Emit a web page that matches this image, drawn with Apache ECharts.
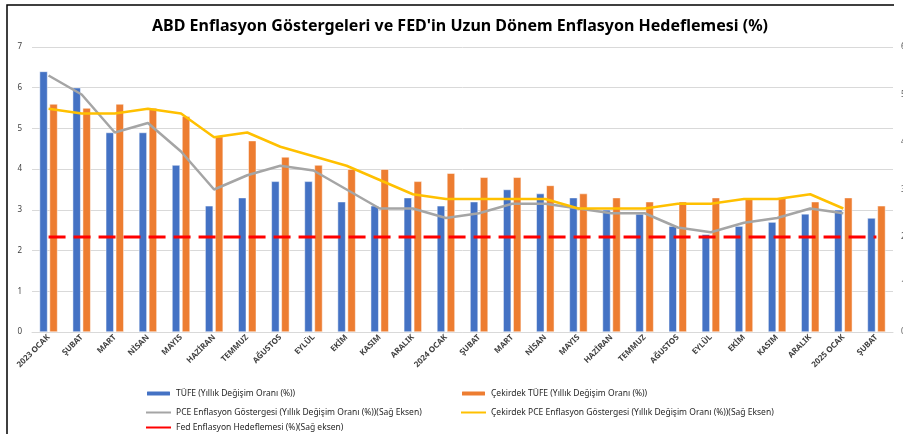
<!DOCTYPE html>
<html>
<head>
<meta charset="utf-8">
<script src="https://cdn.jsdelivr.net/npm/echarts@6/dist/echarts.min.js"></script>
<style>
  html, body { margin: 0; padding: 0; background: #fff; }
  #main { width: 903px; height: 434px; }
</style>
</head>
<body>
<div id="main"></div>
<script>
  // aylar
  var months = ['2023 OCAK', 'ŞUBAT', 'MART', 'NİSAN', 'MAYIS', 'HAZİRAN', 'TEMMUZ', 'AĞUSTOS', 'EYLÜL', 'EKİM', 'KASIM', 'ARALIK',
    '2024 OCAK', 'ŞUBAT', 'MART', 'NİSAN', 'MAYIS', 'HAZİRAN', 'TEMMUZ', 'AĞUSTOS', 'EYLÜL', 'EKİM', 'KASIM', 'ARALIK',
    '2025 OCAK', 'ŞUBAT'];
  var tufe = [6.4, 6.0, 4.9, 4.9, 4.1, 3.1, 3.3, 3.7, 3.7, 3.2, 3.1, 3.3, 3.1, 3.2, 3.5, 3.4, 3.3, 3.0, 2.9, 2.6, 2.4, 2.6, 2.7, 2.9, 3.0, 2.8];
  var cekirdekTufe = [5.6, 5.5, 5.6, 5.5, 5.3, 4.8, 4.7, 4.3, 4.1, 4.0, 4.0, 3.7, 3.9, 3.8, 3.8, 3.6, 3.4, 3.3, 3.2, 3.2, 3.3, 3.3, 3.3, 3.2, 3.3, 3.1];
  // sag eksen
  var pce = [5.4, 5.0, 4.2, 4.4, 3.8, 3.0, 3.3, 3.5, 3.4, 3.0, 2.6, 2.6, 2.4, 2.5, 2.7, 2.7, 2.6, 2.5, 2.5, 2.2, 2.1, 2.3, 2.4, 2.6, 2.5, null];
  var cekirdekPce = [4.7, 4.6, 4.6, 4.7, 4.6, 4.1, 4.2, 3.9, 3.7, 3.5, 3.2, 2.9, 2.8, 2.8, 2.8, 2.8, 2.6, 2.6, 2.6, 2.7, 2.7, 2.8, 2.8, 2.9, 2.6, null];
  var fedHedef = [2, 2, 2, 2, 2, 2, 2, 2, 2, 2, 2, 2, 2, 2, 2, 2, 2, 2, 2, 2, 2, 2, 2, 2, 2, 2];
  var leftTicks = { min: 0, max: 7, interval: 1 };
  var rightTicks = { min: 0, max: 6, interval: 1 };

  var names = [
    'TÜFE (Yıllık Değişim Oranı (%))',
    'Çekirdek TÜFE (Yıllık Değişim Oranı (%))',
    'PCE Enflasyon Göstergesi (Yıllık Değişim Oranı (%))(Sağ Eksen)',
    'Çekirdek PCE Enflasyon Göstergesi (Yıllık Değişim Oranı (%))(Sağ Eksen)',
    'Fed Enflasyon Hedeflemesi (%)(Sağ eksen)'
  ];

  var font = "'Noto Sans', sans-serif";
  var legendText = { fontSize: 8.5, color: '#262626', fontFamily: font };
  // cizgi ikonlarinda nokta olmasin
  var noDot = { opacity: 0 };

  function legendBox(left, top, data) {
    return {
      orient: 'vertical',
      left: left,
      top: top,
      itemWidth: 25,
      itemHeight: 6,
      itemGap: 10,
      data: data,
      textStyle: legendText
    };
  }

  var chart = echarts.init(document.getElementById('main'));
  chart.setOption({
    animation: false,
    textStyle: { fontFamily: font },
    title: {
      text: "ABD Enflasyon Göstergeleri ve FED'in Uzun Dönem Enflasyon Hedeflemesi (%)",
      left: 147,
      top: 13,
      textStyle: { fontSize: 16, fontWeight: 'bold', color: '#000', fontFamily: font }
    },
    graphic: [{
      type: 'polyline',
      shape: { points: [[7, 434], [7, 5], [894, 5]] },
      style: { stroke: '#000', lineWidth: 1.5, fill: null }
    }],
    legend: [
      legendBox(140, 384, [names[0], { name: names[2], itemStyle: noDot }]),
      legendBox(140, 418, [{ name: names[4], itemStyle: noDot, lineStyle: { type: 'solid' } }]),
      legendBox(455, 384, [names[1], { name: names[3], itemStyle: noDot }])
    ],
    grid: { left: 32, right: 10, top: 47, bottom: 102, outerBoundsMode: 'none' },
    xAxis: {
      type: 'category',
      data: months,
      axisLine: { lineStyle: { color: '#D9D9D9' } },
      axisTick: { show: false },
      axisLabel: { interval: 0, rotate: 45, fontSize: 8, fontWeight: 'bold', color: '#404040', margin: 4 }
    },
    yAxis: [{
      type: 'value',
      min: leftTicks.min, max: leftTicks.max, interval: leftTicks.interval,
      axisLabel: { fontSize: 8, color: '#404040', margin: 10 },
      splitLine: { lineStyle: { color: '#D9D9D9' } }
    }, {
      type: 'value',
      position: 'right',
      min: rightTicks.min, max: rightTicks.max, interval: rightTicks.interval,
      axisLabel: { fontSize: 8, color: '#595959', margin: 8 },
      splitLine: { show: false }
    }],
    series: [{
      name: names[0],
      type: 'bar',
      data: tufe,
      barWidth: 8,
      barGap: '25%',
      itemStyle: { color: '#4472C4', borderColor: '#fff', borderWidth: 0.5 }
    }, {
      name: names[1],
      type: 'bar',
      data: cekirdekTufe,
      barWidth: 8,
      itemStyle: { color: '#ED7D31', borderColor: '#fff', borderWidth: 0.5 }
    }, {
      name: names[2],
      type: 'line',
      yAxisIndex: 1,
      data: pce,
      symbol: 'none',
      lineStyle: { color: '#A5A5A5', width: 2.5 },
      itemStyle: { color: '#A5A5A5' }
    }, {
      name: names[3],
      type: 'line',
      yAxisIndex: 1,
      data: cekirdekPce,
      symbol: 'none',
      lineStyle: { color: '#FFC000', width: 2.5 },
      itemStyle: { color: '#FFC000' }
    }, {
      name: names[4],
      type: 'line',
      yAxisIndex: 1,
      data: fedHedef,
      symbol: 'none',
      lineStyle: { color: '#FF0000', width: 3, type: [17, 8] },
      itemStyle: { color: '#FF0000' }
    }]
  });
</script>
</body>
</html>
